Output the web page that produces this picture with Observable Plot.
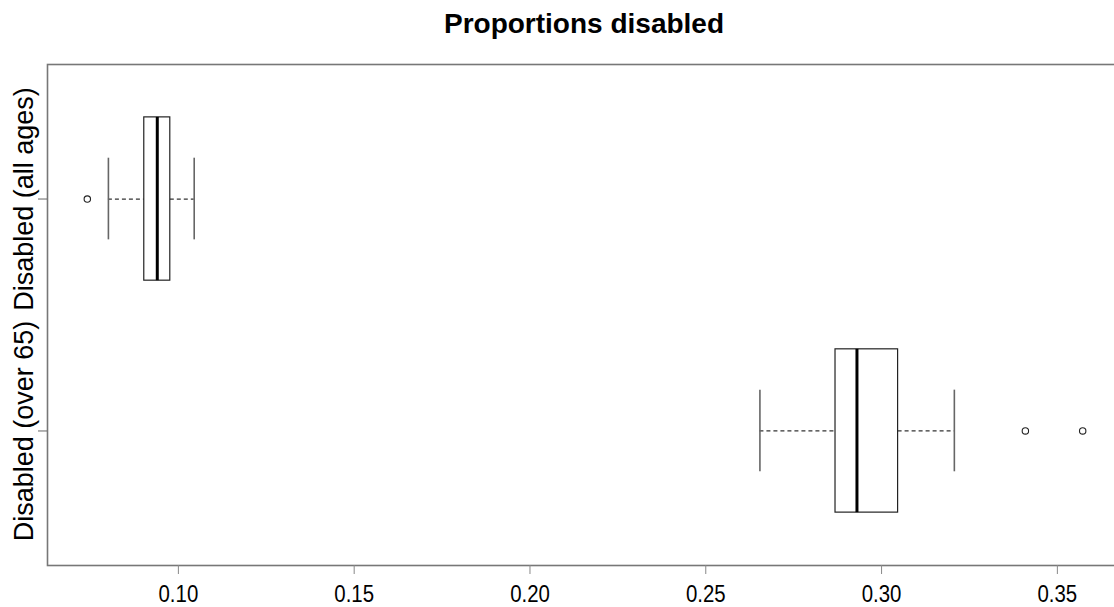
<!DOCTYPE html>
<html>
<head>
<meta charset="utf-8">
<script src="https://cdn.jsdelivr.net/npm/d3@7"></script>
<script src="https://cdn.jsdelivr.net/npm/@observablehq/plot@0.6"></script>
<style>
  html, body { margin: 0; padding: 0; background: #fff; overflow: hidden; }
  #wrap { width: 1114px; height: 607px; position: relative; overflow: hidden; }
  #title { position: relative; width: 1114px; height: 50px; }
  #title span { position: absolute; left: 584px; top: 10px; transform: translateX(-50%);
    font-family: "Liberation Sans", Arial, sans-serif; font-weight: 700; font-size: 28px; line-height: 28px; color: #000; white-space: nowrap; }
  svg { overflow: hidden; }
</style>
</head>
<body>
<div id="wrap">
  <div id="title"><span>Proportions disabled</span></div>
  <div id="chart"></div>
</div>
<script>
// ---- data ----
const groups = ["Disabled (all ages)", "Disabled (over 65)"];
const whiskerLow = [0.0801, 0.2654];
const q1 = [0.0903, 0.2869];
const median = [0.0940, 0.2930];
const q3 = [0.0977, 0.3047];
const whiskerHigh = [0.1045, 0.3207];
const outliers = [[0.0741], [0.3409, 0.3572]];
const xTicks = [0.10, 0.15, 0.20, 0.25, 0.30, 0.35];

// ---- build tables ----
const stats = groups.map((g, i) => ({
  group: g, pos: i + 1,
  lo: whiskerLow[i], q1: q1[i], med: median[i], q3: q3[i], hi: whiskerHigh[i]
}));
const outlierRows = groups.flatMap((g, i) => outliers[i].map(v => ({group: g, pos: i + 1, value: v})));

const boxHalf = 0.352;     // half box height in group units
const stapleHalf = 0.176;  // half staple height

const allVals = [...whiskerLow, ...whiskerHigh, ...outliers.flat()];
const lo = d3.min(allVals), hi = d3.max(allVals), ext = (hi - lo) * 0.04;

const chart = Plot.plot({
  width: 1114,
  height: 557,
  marginTop: 14,
  marginBottom: 42,
  marginLeft: 47,
  marginRight: -8,
  style: {background: "#fff", overflow: "hidden"},
  x: {domain: [lo - ext, hi + ext]},
  y: {domain: [0.5 - 0.08, groups.length + 0.5 + 0.08], reverse: true},
  marks: [
    // whiskers (dashed)
    Plot.ruleY(stats, {y: "pos", x1: "lo", x2: "q1", stroke: "#333", strokeWidth: 1.2, strokeDasharray: "4,3"}),
    Plot.ruleY(stats, {y: "pos", x1: "q3", x2: "hi", stroke: "#333", strokeWidth: 1.2, strokeDasharray: "4,3"}),
    // staples
    Plot.ruleX(stats, {x: "lo", y1: d => d.pos - stapleHalf, y2: d => d.pos + stapleHalf, stroke: "#666", strokeWidth: 1.6}),
    Plot.ruleX(stats, {x: "hi", y1: d => d.pos - stapleHalf, y2: d => d.pos + stapleHalf, stroke: "#666", strokeWidth: 1.6}),
    // boxes
    Plot.rect(stats, {x1: "q1", x2: "q3", y1: d => d.pos - boxHalf, y2: d => d.pos + boxHalf, fill: "white", stroke: "#222", strokeWidth: 1.2}),
    // medians
    Plot.ruleX(stats, {x: "med", y1: d => d.pos - boxHalf, y2: d => d.pos + boxHalf, stroke: "#000", strokeWidth: 3}),
    // outliers
    Plot.dot(outlierRows, {x: "value", y: "pos", r: 3.2, stroke: "#222", strokeWidth: 1.1, fill: "none"}),
    // frame
    Plot.frame({stroke: "#777", strokeWidth: 1.6}),
    // x axis
    Plot.axisX({ticks: xTicks, tickFormat: d3.format(".2f"), tickSize: 9, tickPadding: 10, stroke: "#888",
      fontSize: 24, fontFamily: "Liberation Sans, Arial, sans-serif", fill: "#000", label: null}),
    // y axis ticks
    Plot.axisY({ticks: d3.range(1, groups.length + 1), tickFormat: () => "", tickSize: 9, stroke: "#666", label: null}),
    // y labels (rotated)
    Plot.text(stats, {y: "pos", text: "group", frameAnchor: "left", dx: -15, rotate: -90,
      textAnchor: "middle", lineAnchor: "bottom", fontSize: 27, fill: "#000",
      fontFamily: "Liberation Sans, Arial, sans-serif"})
  ]
});
// condense the x tick labels (reference uses a narrow face)
d3.select(chart).selectAll('g[aria-label="x-axis tick label"] text').each(function() {
  const t = this.getAttribute("transform") || "";
  this.setAttribute("transform", t + " scale(0.85,1)");
});
document.getElementById("chart").appendChild(chart);
</script>
</body>
</html>
